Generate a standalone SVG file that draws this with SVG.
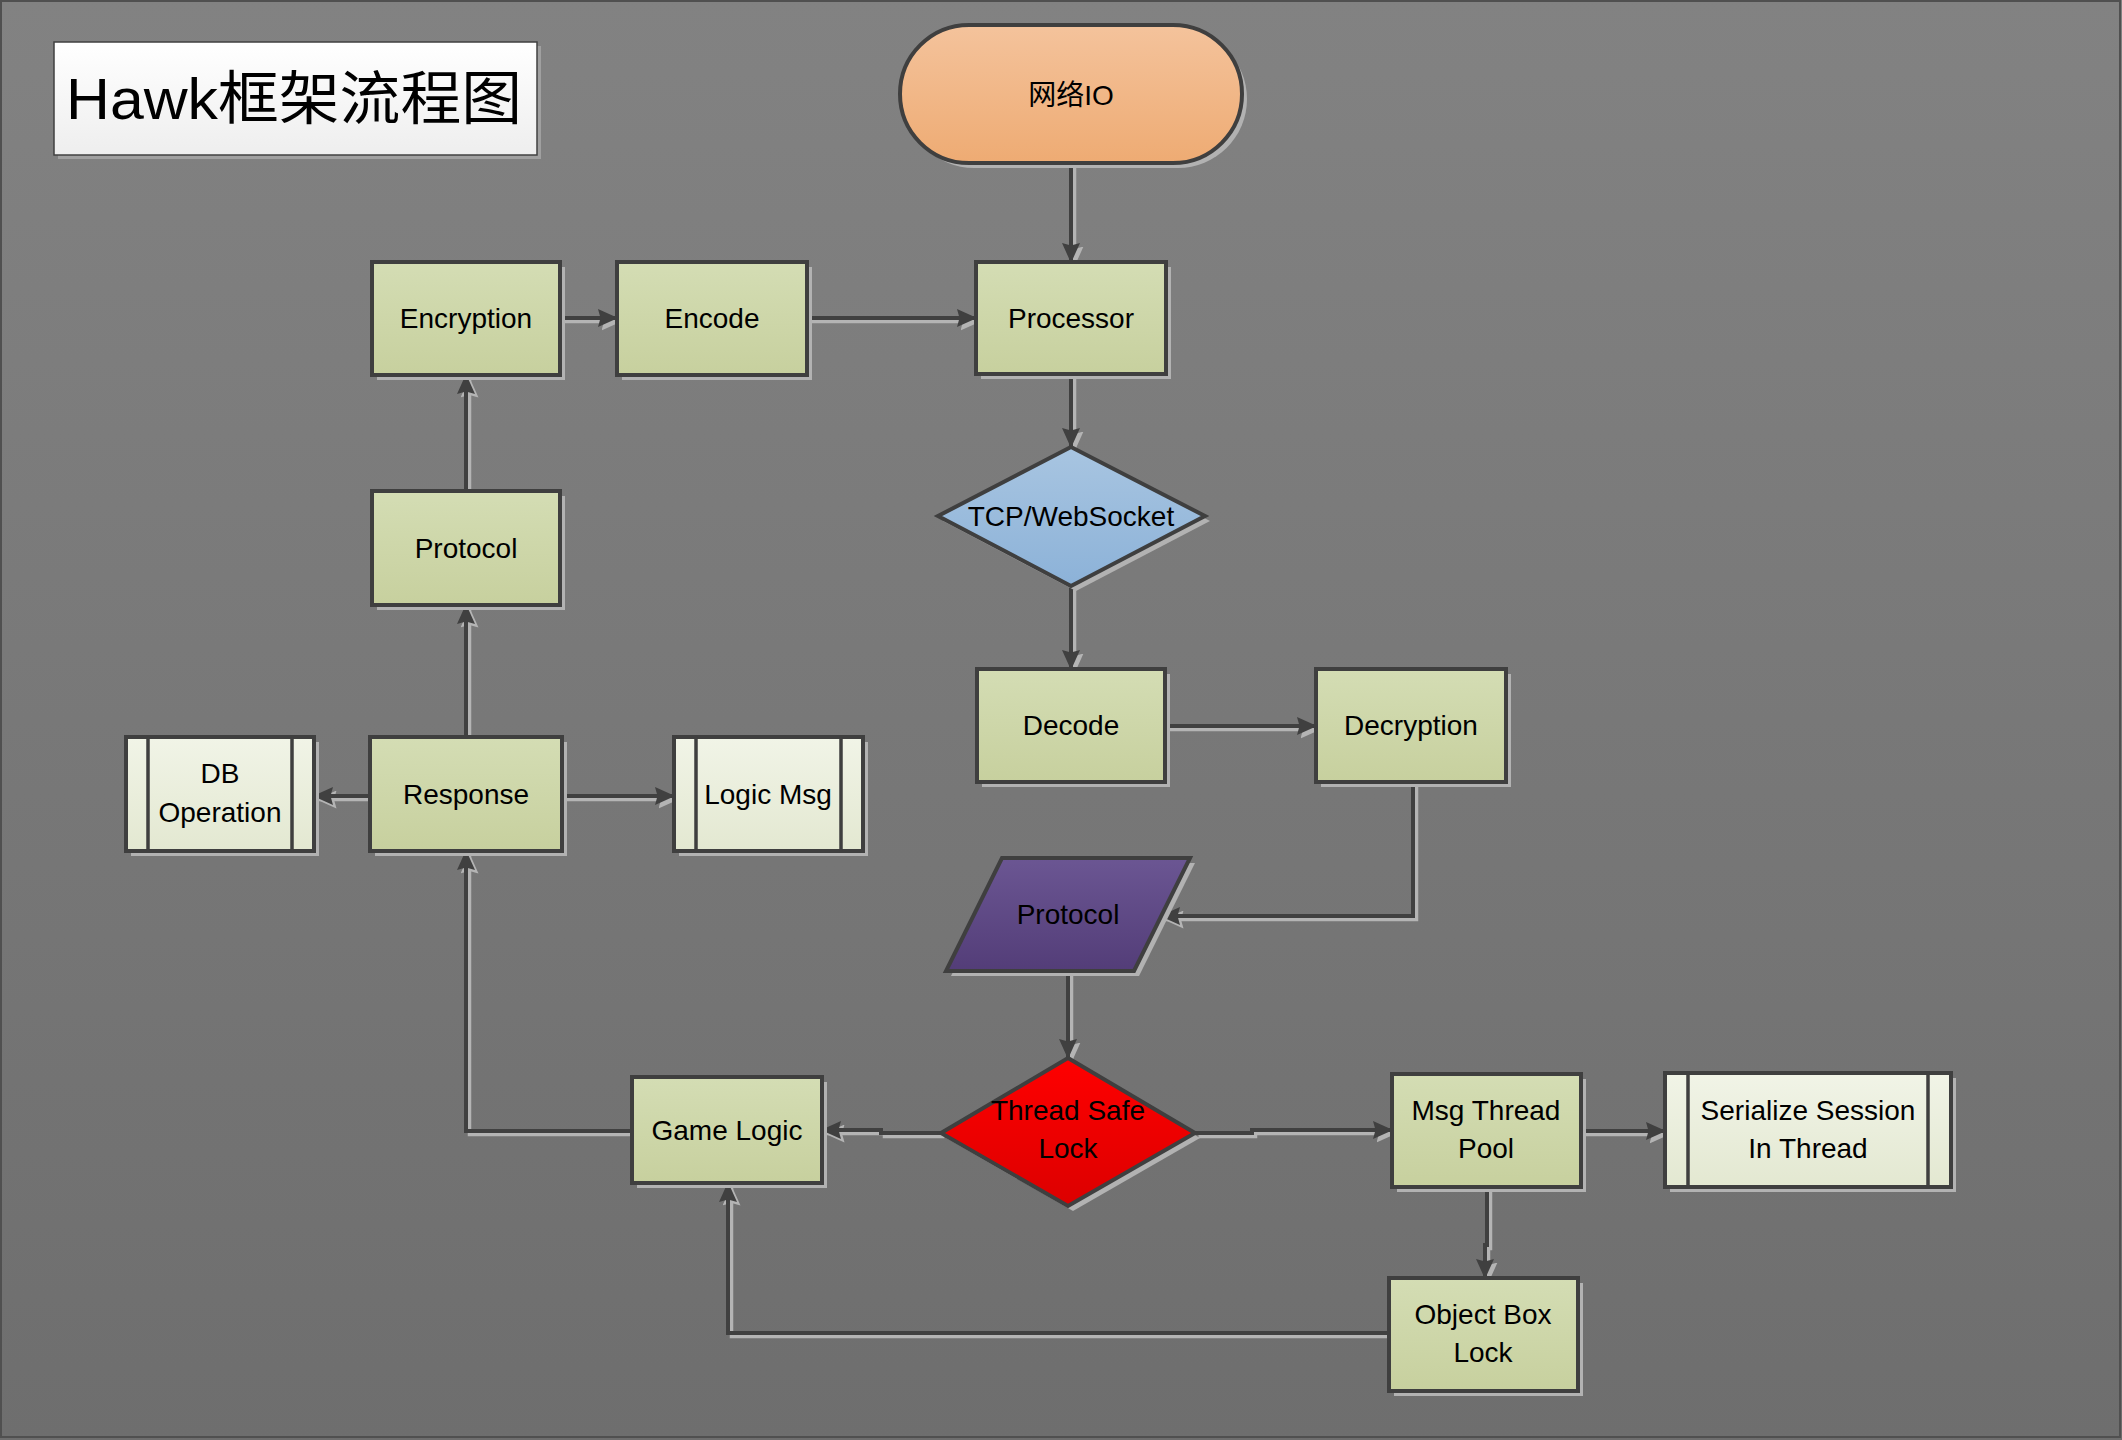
<svg xmlns="http://www.w3.org/2000/svg" width="2122" height="1440" viewBox="0 0 2122 1440">
<defs>
<linearGradient id="gBg" x1="0" y1="0" x2="0" y2="1"><stop offset="0" stop-color="#828282"/><stop offset="1" stop-color="#6e6e6e"/></linearGradient>
<linearGradient id="gGreen" x1="0" y1="0" x2="0" y2="1"><stop offset="0" stop-color="#d4ddb4"/><stop offset="1" stop-color="#c7d09e"/></linearGradient>
<linearGradient id="gLight" x1="0" y1="0" x2="0" y2="1"><stop offset="0" stop-color="#f1f4e7"/><stop offset="1" stop-color="#e3e8d1"/></linearGradient>
<linearGradient id="gOrange" x1="0" y1="0" x2="0" y2="1"><stop offset="0" stop-color="#f4c39c"/><stop offset="1" stop-color="#eeab73"/></linearGradient>
<linearGradient id="gBlue" x1="0" y1="0" x2="0" y2="1"><stop offset="0" stop-color="#a8c5e1"/><stop offset="1" stop-color="#8cb2d8"/></linearGradient>
<linearGradient id="gPurple" x1="0" y1="0" x2="0" y2="1"><stop offset="0" stop-color="#6b5693"/><stop offset="1" stop-color="#533d78"/></linearGradient>
<linearGradient id="gRed" x1="0" y1="0" x2="0" y2="1"><stop offset="0" stop-color="#ff0000"/><stop offset="1" stop-color="#dc0000"/></linearGradient>
<linearGradient id="gWhite" x1="0" y1="0" x2="0" y2="1"><stop offset="0" stop-color="#ffffff"/><stop offset="1" stop-color="#eeeeee"/></linearGradient>
<marker id="arr" viewBox="0 0 20 18" refX="19" refY="9" markerWidth="20" markerHeight="18" markerUnits="userSpaceOnUse" orient="auto">
<path d="M0,0 L20,9 L0,18 L2.5,9 z" fill="#404040"/>
</marker>
<marker id="arrS" viewBox="0 0 20 18" refX="19" refY="9" markerWidth="20" markerHeight="18" markerUnits="userSpaceOnUse" orient="auto">
<path d="M0,0 L20,9 L0,18 L2.5,9 z" fill="#b4b4b4"/>
</marker>
<style>
.box{stroke:#3f3f3f;stroke-width:4}
.green{fill:url(#gGreen)}
.light{fill:url(#gLight)}
.sh{fill:#b2b2b2;stroke:none}
.inner{stroke:#3f3f3f;stroke-width:3.5;fill:none}
.lbl{font-family:"Liberation Sans","Noto Sans CJK SC",sans-serif;font-size:28px;fill:#000;text-anchor:middle}
.c{fill:none;stroke:#404040;stroke-width:4;marker-end:url(#arr)}
.cs{fill:none;stroke:#b4b4b4;stroke-width:3.5;marker-end:url(#arrS)}
</style>
</defs>
<rect x="0" y="0" width="2122" height="1440" fill="url(#gBg)"/>
<rect x="1" y="1" width="2119" height="1436" fill="none" stroke="#505050" stroke-width="2"/>

<g id="title">
<rect x="58" y="46" width="483" height="113" fill="#a0a0a0"/>
<rect x="54" y="42" width="483" height="113" fill="url(#gWhite)" stroke="#404040" stroke-width="1.5"/>
<text x="66" y="119" font-family="&quot;Liberation Sans&quot;,&quot;Noto Sans CJK SC&quot;,sans-serif" font-size="58" textLength="456" lengthAdjust="spacingAndGlyphs" fill="#000">Hawk框架流程图</text>
</g>

<g id="connectors">
<g transform="translate(3.5,3.5)">
<path class="cs" d="M1071,163 V262"/>
<path class="cs" d="M1071,374 V447"/>
<path class="cs" d="M1071,586 V669"/>
<path class="cs" d="M1165,726 H1316"/>
<path class="cs" d="M1413,782 V916 H1161"/>
<path class="cs" d="M1068,971 V1058"/>
<path class="cs" d="M941,1133 H881 V1130 H822"/>
<path class="cs" d="M1195,1133 H1252 V1130 H1392"/>
<path class="cs" d="M1581,1131 H1665"/>
<path class="cs" d="M1487,1187 V1245 H1485 V1278"/>
<path class="cs" d="M1389,1333 H728 V1183"/>
<path class="cs" d="M632,1131 H466 V851"/>
<path class="cs" d="M370,796 H314"/>
<path class="cs" d="M562,796 H674"/>
<path class="cs" d="M466,737 V605"/>
<path class="cs" d="M466,491 V375"/>
<path class="cs" d="M560,318 H617"/>
<path class="cs" d="M807,318 H976"/>
</g>
<path class="c" d="M1071,163 V262"/>
<path class="c" d="M1071,374 V447"/>
<path class="c" d="M1071,586 V669"/>
<path class="c" d="M1165,726 H1316"/>
<path class="c" d="M1413,782 V916 H1161"/>
<path class="c" d="M1068,971 V1058"/>
<path class="c" d="M941,1133 H881 V1130 H822"/>
<path class="c" d="M1195,1133 H1252 V1130 H1392"/>
<path class="c" d="M1581,1131 H1665"/>
<path class="c" d="M1487,1187 V1245 H1485 V1278"/>
<path class="c" d="M1389,1333 H728 V1183"/>
<path class="c" d="M632,1131 H466 V851"/>
<path class="c" d="M370,796 H314"/>
<path class="c" d="M562,796 H674"/>
<path class="c" d="M466,737 V605"/>
<path class="c" d="M466,491 V375"/>
<path class="c" d="M560,318 H617"/>
<path class="c" d="M807,318 H976"/>
</g>

<g id="n-netio">
<rect class="sh" x="905" y="30" width="342" height="138" rx="69"/>
<rect x="900" y="25" width="342" height="138" rx="69" fill="url(#gOrange)" class="box"/>
<text class="lbl" x="1071" y="105">网络IO</text>
</g>

<g id="n-processor">
<rect class="sh" x="981" y="267" width="190" height="112"/>
<rect class="box green" x="976" y="262" width="190" height="112"/>
<text class="lbl" x="1071" y="328">Processor</text>
</g>

<g id="n-encode">
<rect class="sh" x="622" y="267" width="190" height="113"/>
<rect class="box green" x="617" y="262" width="190" height="113"/>
<text class="lbl" x="712" y="328">Encode</text>
</g>

<g id="n-encryption">
<rect class="sh" x="377" y="267" width="188" height="113"/>
<rect class="box green" x="372" y="262" width="188" height="113"/>
<text class="lbl" x="466" y="328">Encryption</text>
</g>

<g id="n-protocol-out">
<rect class="sh" x="377" y="496" width="188" height="114"/>
<rect class="box green" x="372" y="491" width="188" height="114"/>
<text class="lbl" x="466" y="558">Protocol</text>
</g>

<g id="n-response">
<rect class="sh" x="375" y="742" width="192" height="114"/>
<rect class="box green" x="370" y="737" width="192" height="114"/>
<text class="lbl" x="466" y="804">Response</text>
</g>

<g id="n-dboperation">
<rect class="sh" x="131" y="742" width="188" height="114"/>
<rect class="box light" x="126" y="737" width="188" height="114"/>
<path class="inner" d="M148,737 V851 M292,737 V851"/>
<text class="lbl" x="220" y="783">DB</text>
<text class="lbl" x="220" y="822">Operation</text>
</g>

<g id="n-logicmsg">
<rect class="sh" x="679" y="742" width="189" height="114"/>
<rect class="box light" x="674" y="737" width="189" height="114"/>
<path class="inner" d="M696,737 V851 M841,737 V851"/>
<text class="lbl" x="768" y="804">Logic Msg</text>
</g>

<g id="n-tcp">
<polygon class="sh" points="1076,452 1210,521 1076,591 943,521"/>
<polygon class="box" fill="url(#gBlue)" points="1071,447 1205,516 1071,586 938,516"/>
<text class="lbl" x="1071" y="526">TCP/WebSocket</text>
</g>

<g id="n-decode">
<rect class="sh" x="982" y="674" width="188" height="113"/>
<rect class="box green" x="977" y="669" width="188" height="113"/>
<text class="lbl" x="1071" y="735">Decode</text>
</g>

<g id="n-decryption">
<rect class="sh" x="1321" y="674" width="190" height="113"/>
<rect class="box green" x="1316" y="669" width="190" height="113"/>
<text class="lbl" x="1411" y="735">Decryption</text>
</g>

<g id="n-protocol-in">
<polygon class="sh" points="1007,863 1195,863 1139,976 951,976"/>
<polygon class="box" fill="url(#gPurple)" points="1002,858 1190,858 1134,971 946,971"/>
<text class="lbl" x="1068" y="924">Protocol</text>
</g>

<g id="n-threadsafe">
<polygon class="sh" points="1073,1063 1200,1138 1073,1211 946,1138"/>
<polygon class="box" fill="url(#gRed)" points="1068,1058 1195,1133 1068,1206 941,1133"/>
<text class="lbl" x="1068" y="1120">Thread Safe</text>
<text class="lbl" x="1068" y="1158">Lock</text>
</g>

<g id="n-gamelogic">
<rect class="sh" x="637" y="1082" width="190" height="106"/>
<rect class="box green" x="632" y="1077" width="190" height="106"/>
<text class="lbl" x="727" y="1140">Game Logic</text>
</g>

<g id="n-msgthreadpool">
<rect class="sh" x="1397" y="1079" width="189" height="113"/>
<rect class="box green" x="1392" y="1074" width="189" height="113"/>
<text class="lbl" x="1486" y="1120">Msg Thread</text>
<text class="lbl" x="1486" y="1158">Pool</text>
</g>

<g id="n-serialize">
<rect class="sh" x="1670" y="1078" width="286" height="114"/>
<rect class="box light" x="1665" y="1073" width="286" height="114"/>
<path class="inner" d="M1688,1073 V1187 M1928,1073 V1187"/>
<text class="lbl" x="1808" y="1120">Serialize Session</text>
<text class="lbl" x="1808" y="1158">In Thread</text>
</g>

<g id="n-objectbox">
<rect class="sh" x="1394" y="1283" width="189" height="113"/>
<rect class="box green" x="1389" y="1278" width="189" height="113"/>
<text class="lbl" x="1483" y="1324">Object Box</text>
<text class="lbl" x="1483" y="1362">Lock</text>
</g>
</svg>
